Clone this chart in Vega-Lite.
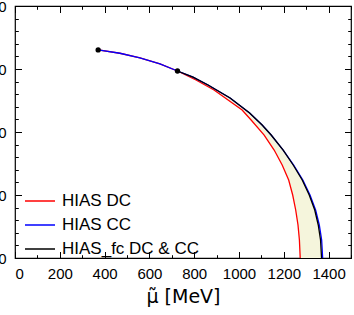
{
  "$schema": "https://vega.github.io/schema/vega-lite/v6.json",
  "width": 336,
  "height": 252,
  "autosize": {"type": "none"},
  "padding": {"left": 15, "top": 6, "right": 3, "bottom": 57},
  "config": {
    "view": {"stroke": "black", "strokeWidth": 1.2},
    "font": "Liberation Sans",
    "axis": {"domain": false, "grid": false, "tickColor": "black", "tickWidth": 1, "labelColor": "black", "labelFontSize": 15, "labelFont": "Liberation Sans", "titleFont": "Liberation Sans", "titleColor": "black", "format": "d"}
  },
  "datasets": {
    "curves": [
      {"series": "HIAS DC", "mu": 371.2, "T": 165.1},
      {"series": "HIAS DC", "mu": 468.2, "T": 162.5},
      {"series": "HIAS DC", "mu": 557.7, "T": 158.9},
      {"series": "HIAS DC", "mu": 647.1, "T": 154.1},
      {"series": "HIAS DC", "mu": 725.4, "T": 148.4},
      {"series": "HIAS DC", "mu": 808.0, "T": 141.3},
      {"series": "HIAS DC", "mu": 888.6, "T": 133.3},
      {"series": "HIAS DC", "mu": 1013.9, "T": 117.5},
      {"series": "HIAS DC", "mu": 1054.1, "T": 109.5},
      {"series": "HIAS DC", "mu": 1112.3, "T": 97.6},
      {"series": "HIAS DC", "mu": 1157.0, "T": 85.7},
      {"series": "HIAS DC", "mu": 1192.8, "T": 73.8},
      {"series": "HIAS DC", "mu": 1221.8, "T": 61.9},
      {"series": "HIAS DC", "mu": 1239.7, "T": 50.0},
      {"series": "HIAS DC", "mu": 1253.1, "T": 38.1},
      {"series": "HIAS DC", "mu": 1263.4, "T": 26.2},
      {"series": "HIAS DC", "mu": 1269.7, "T": 14.3},
      {"series": "HIAS DC", "mu": 1273.3, "T": 0},
      {"series": "HIAS CC", "mu": 371.2, "T": 165.1},
      {"series": "HIAS CC", "mu": 468.2, "T": 162.5},
      {"series": "HIAS CC", "mu": 557.7, "T": 158.9},
      {"series": "HIAS CC", "mu": 647.1, "T": 154.1},
      {"series": "HIAS CC", "mu": 725.4, "T": 148.4},
      {"series": "HIAS CC", "mu": 794.7, "T": 143.5},
      {"series": "HIAS CC", "mu": 861.8, "T": 137.3},
      {"series": "HIAS CC", "mu": 960.2, "T": 127.0},
      {"series": "HIAS CC", "mu": 1047.4, "T": 115.1},
      {"series": "HIAS CC", "mu": 1103.3, "T": 105.6},
      {"series": "HIAS CC", "mu": 1143.6, "T": 97.6},
      {"series": "HIAS CC", "mu": 1197.2, "T": 85.7},
      {"series": "HIAS CC", "mu": 1244.0, "T": 73.8},
      {"series": "HIAS CC", "mu": 1285.0, "T": 61.9},
      {"series": "HIAS CC", "mu": 1317.0, "T": 50.0},
      {"series": "HIAS CC", "mu": 1342.0, "T": 38.1},
      {"series": "HIAS CC", "mu": 1358.5, "T": 26.2},
      {"series": "HIAS CC", "mu": 1369.0, "T": 14.3},
      {"series": "HIAS CC", "mu": 1373.5, "T": 0},
      {"series": "HIAS_fc DC & CC", "mu": 725.4, "T": 148.4},
      {"series": "HIAS_fc DC & CC", "mu": 794.7, "T": 143.5},
      {"series": "HIAS_fc DC & CC", "mu": 861.8, "T": 137.3},
      {"series": "HIAS_fc DC & CC", "mu": 960.2, "T": 127.0},
      {"series": "HIAS_fc DC & CC", "mu": 1047.4, "T": 115.1},
      {"series": "HIAS_fc DC & CC", "mu": 1103.3, "T": 105.6},
      {"series": "HIAS_fc DC & CC", "mu": 1143.6, "T": 97.6},
      {"series": "HIAS_fc DC & CC", "mu": 1197.2, "T": 85.7},
      {"series": "HIAS_fc DC & CC", "mu": 1241.9, "T": 73.8},
      {"series": "HIAS_fc DC & CC", "mu": 1282.2, "T": 61.9},
      {"series": "HIAS_fc DC & CC", "mu": 1313.5, "T": 50.0},
      {"series": "HIAS_fc DC & CC", "mu": 1338.1, "T": 38.1},
      {"series": "HIAS_fc DC & CC", "mu": 1353.8, "T": 26.2},
      {"series": "HIAS_fc DC & CC", "mu": 1364.0, "T": 14.3},
      {"series": "HIAS_fc DC & CC", "mu": 1368.5, "T": 0}
    ],
    "band": [
      {"T": 148.4, "muDC": 725.4, "muFC": 725.4},
      {"T": 143.5, "muDC": 782.0, "muFC": 794.7},
      {"T": 137.3, "muDC": 848.0, "muFC": 861.8},
      {"T": 127.0, "muDC": 938.6, "muFC": 960.2},
      {"T": 117.5, "muDC": 1013.9, "muFC": 1029.8},
      {"T": 109.5, "muDC": 1054.1, "muFC": 1080.3},
      {"T": 97.6, "muDC": 1112.3, "muFC": 1143.6},
      {"T": 85.7, "muDC": 1157.0, "muFC": 1197.2},
      {"T": 73.8, "muDC": 1192.8, "muFC": 1241.9},
      {"T": 61.9, "muDC": 1221.8, "muFC": 1282.2},
      {"T": 50.0, "muDC": 1239.7, "muFC": 1313.5},
      {"T": 38.1, "muDC": 1253.1, "muFC": 1338.1},
      {"T": 26.2, "muDC": 1263.4, "muFC": 1353.8},
      {"T": 14.3, "muDC": 1269.7, "muFC": 1364.0},
      {"T": 0, "muDC": 1273.3, "muFC": 1368.5}
    ],
    "points": [
      {"mu": 371.2, "T": 165.1},
      {"mu": 725.4, "T": 148.4}
    ]
  },
  "layer": [
    {
      "data": {"name": "band"},
      "mark": {"type": "area", "orient": "horizontal", "color": "#f5f5dc"},
      "encoding": {
        "y": {"field": "T", "type": "quantitative", "scale": {"domain": [0, 200], "nice": false},
              "axis": {"orient": "left", "values": [0, 50, 100, 150, 200], "tickSize": 6.5, "offset": -6.5, "labelPadding": 9, "title": null}},
        "x": {"field": "muDC", "type": "quantitative", "scale": {"domain": [0, 1500], "nice": false},
              "axis": {"orient": "bottom", "values": [0, 200, 400, 600, 800, 1000, 1200, 1400], "tickSize": 6.5, "offset": -6.5, "labelPadding": 8, "title": "μ̃ [MeV]", "titleFont": "DejaVu Sans", "titleFontSize": 19, "titleFontWeight": "normal", "titlePadding": 6}},
        "x2": {"field": "muFC"}
      }
    },
    {
      "data": {"name": "curves"},
      "transform": [{"filter": "datum.series === 'HIAS DC'"}],
      "mark": {"type": "line", "strokeWidth": 1.3},
      "encoding": {
        "x": {"field": "mu", "type": "quantitative", "scale": {"domain": [0, 1500], "nice": false},
              "axis": {"orient": "bottom", "values": [100, 300, 500, 700, 900, 1100, 1300, 1500], "tickSize": 3.3, "offset": -3.3, "labels": false, "title": null}},
        "y": {"field": "T", "type": "quantitative", "scale": {"domain": [0, 200], "nice": false},
              "axis": {"orient": "left", "values": [10, 20, 30, 40, 60, 70, 80, 90, 110, 120, 130, 140, 160, 170, 180, 190], "tickSize": 3.3, "offset": -3.3, "labels": false, "title": null}},
        "color": {"field": "series", "type": "nominal",
                  "scale": {"domain": ["HIAS DC", "HIAS CC", "HIAS_fc DC & CC"], "range": ["#ff0000", "#0000ff", "#000000"]},
                  "legend": {"orient": "none", "legendX": 9, "legendY": 179, "title": null, "symbolType": "stroke", "symbolSize": 900, "symbolStrokeWidth": 1.5, "labelFontSize": 17, "labelFont": "Liberation Sans", "labelColor": "black", "labelOffset": 6, "rowPadding": -10.6, "padding": 0}}
      }
    },
    {
      "data": {"name": "curves"},
      "transform": [{"filter": "datum.series === 'HIAS CC'"}],
      "mark": {"type": "line", "strokeWidth": 1.3},
      "encoding": {
        "x": {"field": "mu", "type": "quantitative", "scale": {"domain": [0, 1500], "nice": false},
              "axis": {"orient": "top", "values": [0, 200, 400, 600, 800, 1000, 1200, 1400], "tickSize": 6.5, "offset": -6.5, "labels": false, "title": null}},
        "y": {"field": "T", "type": "quantitative", "scale": {"domain": [0, 200], "nice": false},
              "axis": {"orient": "right", "values": [0, 50, 100, 150, 200], "tickSize": 6.5, "offset": -6.5, "labels": false, "title": null}},
        "color": {"field": "series", "type": "nominal",
                  "scale": {"domain": ["HIAS DC", "HIAS CC", "HIAS_fc DC & CC"], "range": ["#ff0000", "#0000ff", "#000000"]}}
      }
    },
    {
      "data": {"name": "curves"},
      "transform": [{"filter": "datum.series === 'HIAS_fc DC & CC'"}],
      "mark": {"type": "line", "strokeWidth": 1.3},
      "encoding": {
        "x": {"field": "mu", "type": "quantitative", "scale": {"domain": [0, 1500], "nice": false},
              "axis": {"orient": "top", "values": [100, 300, 500, 700, 900, 1100, 1300, 1500], "tickSize": 3.3, "offset": -3.3, "labels": false, "title": null}},
        "y": {"field": "T", "type": "quantitative", "scale": {"domain": [0, 200], "nice": false},
              "axis": {"orient": "right", "values": [10, 20, 30, 40, 60, 70, 80, 90, 110, 120, 130, 140, 160, 170, 180, 190], "tickSize": 3.3, "offset": -3.3, "labels": false, "title": null}},
        "color": {"field": "series", "type": "nominal",
                  "scale": {"domain": ["HIAS DC", "HIAS CC", "HIAS_fc DC & CC"], "range": ["#ff0000", "#0000ff", "#000000"]}}
      }
    },
    {
      "data": {"name": "points"},
      "mark": {"type": "point", "filled": true, "color": "black", "size": 28, "opacity": 1},
      "encoding": {
        "x": {"field": "mu", "type": "quantitative", "scale": {"domain": [0, 1500], "nice": false}, "axis": null},
        "y": {"field": "T", "type": "quantitative", "scale": {"domain": [0, 200], "nice": false}, "axis": null}
      }
    }
  ],
  "resolve": {"scale": {"x": "shared", "y": "shared", "color": "shared"}, "axis": {"x": "independent", "y": "independent"}}
}
